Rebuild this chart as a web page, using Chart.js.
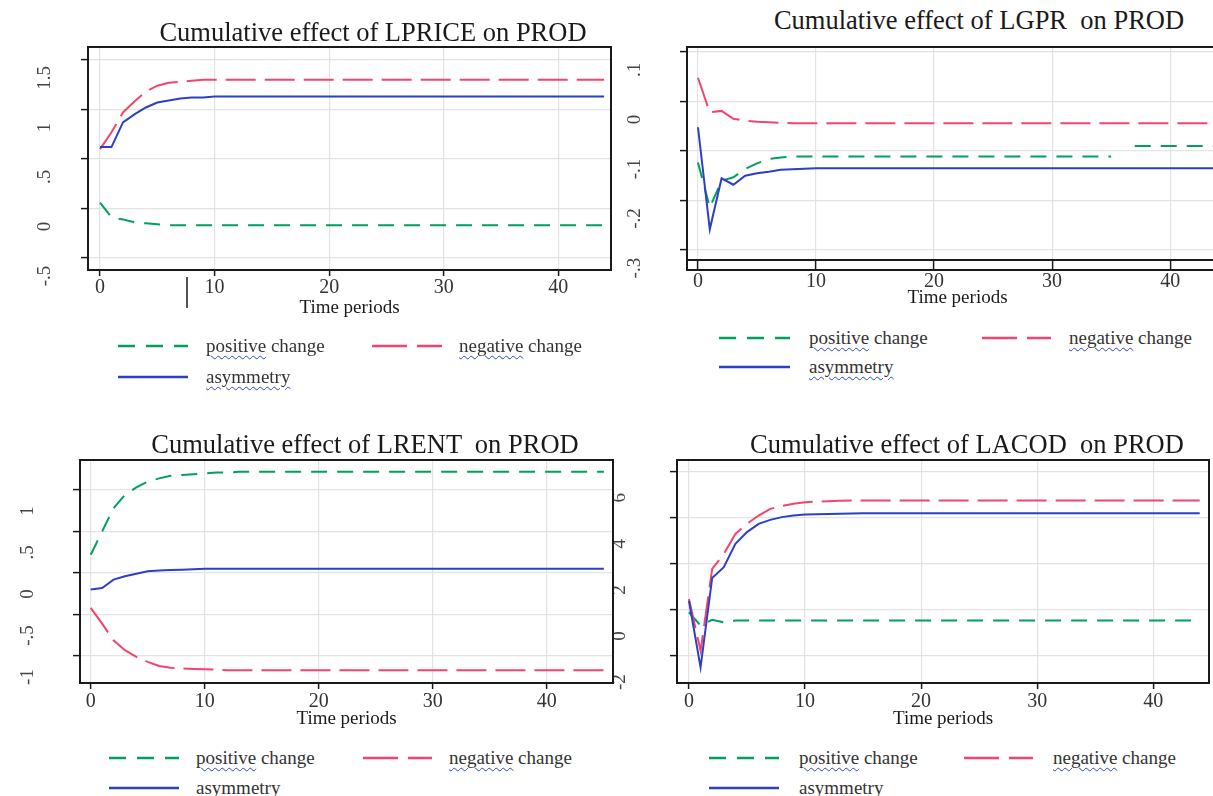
<!DOCTYPE html>
<html>
<head>
<meta charset="utf-8">
<title>Cumulative effects on PROD</title>
<script src="https://cdn.jsdelivr.net/npm/chart.js@4.4.1/dist/chart.umd.min.js"></script>
<style>
  html, body { margin: 0; padding: 0; background: #fff; width: 1213px; height: 796px; overflow: hidden; }
  body { position: relative; font-family: "Liberation Serif", "DejaVu Serif", serif; color: #222; }
  canvas { position: absolute; }
  .title { position: absolute; font-size: 26.5px; line-height: 1; white-space: pre; transform: translateX(-50%); color: #1a1a1a; }
  .lbl { position: absolute; font-size: 19px; line-height: 1; white-space: pre; color: #333; }
  .sq { text-decoration: underline wavy #2a44d0; text-decoration-thickness: 1px; text-underline-offset: 3px; }
  svg.key { position: absolute; overflow: visible; }
  .stray { position: absolute; left: 186px; top: 277px; width: 1.5px; height: 31px; background: #555; }
</style>
</head>
<body>

<canvas id="c-lprice" width="612" height="275" style="left:0;top:45px"></canvas>
<canvas id="c-lgpr"   width="620" height="265" style="left:612px;top:45px"></canvas>
<canvas id="c-lrent"  width="614" height="273" style="left:0;top:458px"></canvas>
<canvas id="c-lacod"  width="600" height="273" style="left:614px;top:458px"></canvas>

<div class="title" style="left:373px;top:19px">Cumulative effect of LPRICE on PROD</div>
<div class="title" style="left:979px;top:7px">Cumulative effect of LGPR  on PROD</div>
<div class="title" style="left:365px;top:431px">Cumulative effect of LRENT  on PROD</div>
<div class="title" style="left:967px;top:431px">Cumulative effect of LACOD  on PROD</div>
<div class="stray"></div>

<script>
"use strict";

// ── Data ───────────────────────────────────────────────────────────── //
const periods44 = [0,1,2,3,4,5,6,7,8,9,10,11,12,13,14,15,16,17,18,19,20,21,22,23,24,25,26,27,28,29,30,31,32,33,34,35,36,37,38,39,40,41,42,43,44];
const periods45 = [0,1,2,3,4,5,6,7,8,9,10,11,12,13,14,15,16,17,18,19,20,21,22,23,24,25,26,27,28,29,30,31,32,33,34,35,36,37,38,39,40,41,42,43,44,45];
const xTicks = [0, 10, 20, 30, 40];

// LPRICE
const lpricePos = [
  0.06,-0.09,-0.11,-0.14,-0.15,-0.16,-0.17,-0.17,-0.17,-0.17,
  -0.17,-0.17,-0.17,-0.17,-0.17,-0.17,-0.17,-0.17,-0.17,-0.17,
  -0.17,-0.17,-0.17,-0.17,-0.17,-0.17,-0.17,-0.17,-0.17,-0.17,
  -0.17,-0.17,-0.17,-0.17,-0.17,-0.17,-0.17,-0.17,-0.17,-0.17,
  -0.17,-0.17,-0.17,-0.17,-0.17];
const lpriceNeg = [
  0.60,0.77,0.97,1.08,1.18,1.24,1.27,1.28,1.29,1.30,
  1.30,1.30,1.30,1.30,1.30,1.30,1.30,1.30,1.30,1.30,
  1.30,1.30,1.30,1.30,1.30,1.30,1.30,1.30,1.30,1.30,
  1.30,1.30,1.30,1.30,1.30,1.30,1.30,1.30,1.30,1.30,
  1.30,1.30,1.30,1.30,1.30];
const lpriceAsym = [
  0.62,0.62,0.87,0.95,1.02,1.07,1.09,1.11,1.12,1.12,
  1.13,1.13,1.13,1.13,1.13,1.13,1.13,1.13,1.13,1.13,
  1.13,1.13,1.13,1.13,1.13,1.13,1.13,1.13,1.13,1.13,
  1.13,1.13,1.13,1.13,1.13,1.13,1.13,1.13,1.13,1.13,
  1.13,1.13,1.13,1.13,1.13];
const lpriceTicks  = [-0.5, 0, 0.5, 1, 1.5];
const lpriceLabels = ["-.5", "0", ".5", "1", "1.5"];

// LGPR
const lgprPos = [
  -0.123,-0.214,-0.160,-0.153,-0.136,-0.125,-0.116,-0.113,-0.111,-0.111,
  -0.111,-0.111,-0.111,-0.111,-0.111,-0.111,-0.111,-0.111,-0.111,-0.111,
  -0.111,-0.111,-0.111,-0.111,-0.111,-0.111,-0.111,-0.111,-0.111,-0.111,
  -0.111,-0.111,-0.111,-0.111,-0.111,-0.111,null,-0.090,-0.090,-0.090,
  -0.090,-0.090,-0.090,-0.090,-0.090];
const lgprNeg = [
  0.048,-0.022,-0.019,-0.035,-0.039,-0.041,-0.042,-0.043,-0.044,-0.044,
  -0.044,-0.044,-0.044,-0.044,-0.044,-0.044,-0.044,-0.044,-0.044,-0.044,
  -0.044,-0.044,-0.044,-0.044,-0.044,-0.044,-0.044,-0.044,-0.044,-0.044,
  -0.044,-0.044,-0.044,-0.044,-0.044,-0.044,-0.044,-0.044,-0.044,-0.044,
  -0.044,-0.044,-0.044,-0.044,-0.044];
const lgprAsym = [
  -0.052,-0.258,-0.155,-0.168,-0.150,-0.145,-0.142,-0.138,-0.137,-0.136,
  -0.135,-0.135,-0.135,-0.135,-0.135,-0.135,-0.135,-0.135,-0.135,-0.135,
  -0.135,-0.135,-0.135,-0.135,-0.135,-0.135,-0.135,-0.135,-0.135,-0.135,
  -0.135,-0.135,-0.135,-0.135,-0.135,-0.135,-0.135,-0.135,-0.135,-0.135,
  -0.135,-0.135,-0.135,-0.135,-0.135];
const lgprTicks  = [-0.3, -0.2, -0.1, 0, 0.1];
const lgprLabels = ["-.3", "-.2", "-.1", "0", ".1"];

// LRENT
const lrentPos = [
  0.22,0.50,0.78,0.94,1.03,1.10,1.14,1.17,1.18,1.19,
  1.20,1.21,1.21,1.22,1.22,1.22,1.22,1.22,1.22,1.22,
  1.22,1.22,1.22,1.22,1.22,1.22,1.22,1.22,1.22,1.22,
  1.22,1.22,1.22,1.22,1.22,1.22,1.22,1.22,1.22,1.22,
  1.22,1.22,1.22,1.22,1.22,1.22];
const lrentNeg = [
  -0.42,-0.61,-0.81,-0.93,-1.01,-1.07,-1.12,-1.14,-1.15,-1.155,
  -1.16,-1.165,-1.17,-1.17,-1.17,-1.17,-1.17,-1.17,-1.17,-1.17,
  -1.17,-1.17,-1.17,-1.17,-1.17,-1.17,-1.17,-1.17,-1.17,-1.17,
  -1.17,-1.17,-1.17,-1.17,-1.17,-1.17,-1.17,-1.17,-1.17,-1.17,
  -1.17,-1.17,-1.17,-1.17,-1.17,-1.17];
const lrentAsym = [
  -0.20,-0.18,-0.08,-0.04,-0.01,0.02,0.03,0.035,0.04,0.045,
  0.05,0.05,0.05,0.05,0.05,0.05,0.05,0.05,0.05,0.05,
  0.05,0.05,0.05,0.05,0.05,0.05,0.05,0.05,0.05,0.05,
  0.05,0.05,0.05,0.05,0.05,0.05,0.05,0.05,0.05,0.05,
  0.05,0.05,0.05,0.05,0.05,0.05];
const lrentTicks  = [-1, -0.5, 0, 0.5, 1];
const lrentLabels = ["-1", "-.5", "0", ".5", "1"];

// LACOD
const lacodPos = [
  -0.10,-0.68,-0.43,-0.54,-0.46,-0.46,-0.46,-0.46,-0.46,-0.46,
  -0.46,-0.46,-0.46,-0.46,-0.46,-0.46,-0.46,-0.46,-0.46,-0.46,
  -0.46,-0.46,-0.46,-0.46,-0.46,-0.46,-0.46,-0.46,-0.46,-0.46,
  -0.46,-0.46,-0.46,-0.46,-0.46,-0.46,-0.46,-0.46,-0.46,-0.46,
  -0.46,-0.46,-0.46,-0.46,-0.46];
const lacodNeg = [
  0.48,-1.77,1.78,2.43,3.30,3.74,4.10,4.39,4.51,4.61,
  4.68,4.70,4.72,4.74,4.75,4.75,4.75,4.75,4.75,4.75,
  4.75,4.75,4.75,4.75,4.75,4.75,4.75,4.75,4.75,4.75,
  4.75,4.75,4.75,4.75,4.75,4.75,4.75,4.75,4.75,4.75,
  4.75,4.75,4.75,4.75,4.75];
const lacodAsym = [
  0.40,-2.49,1.39,1.86,2.87,3.38,3.74,3.91,4.03,4.10,
  4.14,4.16,4.17,4.18,4.19,4.20,4.20,4.20,4.20,4.20,
  4.20,4.20,4.20,4.20,4.20,4.20,4.20,4.20,4.20,4.20,
  4.20,4.20,4.20,4.20,4.20,4.20,4.20,4.20,4.20,4.20,
  4.20,4.20,4.20,4.20,4.20];
const lacodTicks  = [-2, 0, 2, 4, 6];
const lacodLabels = ["-2", "0", "2", "4", "6"];

// ── Styles ─────────────────────────────────────────────────────────── //
const FONT  = "'Liberation Serif', 'DejaVu Serif', serif";
const GREEN = "#00a05c";
const RED   = "#f2446c";
const BLUE  = "#2b40c6";
const GRID  = "#e3e3e3";
const INK   = "#1a1a1a";

// black box round the plot region, optional second axis line below it
const framePlugin = {
  id: "frame",
  afterDraw(chart, _args, opts) {
    const { ctx, chartArea: a } = chart;
    ctx.save();
    ctx.strokeStyle = INK;
    ctx.lineWidth = 2;
    ctx.strokeRect(a.left, a.top, a.right - a.left, a.bottom - a.top);
    if (opts.axisGap) {
      ctx.beginPath();
      ctx.moveTo(a.left, a.bottom);
      ctx.lineTo(a.left, a.bottom + opts.axisGap);
      ctx.lineTo(a.right, a.bottom + opts.axisGap);
      ctx.stroke();
    }
    ctx.restore();
  }
};

// keep the label overhang out of the layout so the plot box sits where set
function noOverhang(s) {
  s.paddingTop = 0; s.paddingBottom = 0;
  s.paddingLeft = 0; s.paddingRight = 0;
}

function xScale(min, max, c) {
  return {
    type: "linear", min, max,
    afterBuildTicks: s => { s.ticks = xTicks.map(v => ({ value: v })); },
    afterFit: s => { s.height = c.height; noOverhang(s); },
    border: { display: false },
    grid: { color: GRID, lineWidth: 1.2, tickColor: INK, tickLength: c.tl, tickWidth: 1.5 },
    ticks: {
      color: "#333", padding: c.pad, maxRotation: 0,
      font: { family: FONT, size: 20, lineHeight: 1 },
      callback: v => String(v),
    },
    title: {
      display: true, text: "Time periods", color: INK,
      font: { family: FONT, size: 19, lineHeight: 1 },
      padding: { top: 0, bottom: 2.5 },
    },
  };
}

function yScale(min, max, tickVals, tickLabels, c) {
  return {
    type: "linear", min, max,
    afterBuildTicks: s => { s.ticks = tickVals.map(v => ({ value: v })); },
    afterFit: s => { s.width = c.width; noOverhang(s); },
    border: { display: false },
    grid: { color: GRID, lineWidth: 1.2, tickColor: INK, tickLength: 7, tickWidth: 1.5 },
    ticks: {
      color: "#444", padding: c.pad, minRotation: 90, maxRotation: 90,
      crossAlign: "center", labelOffset: c.off,
      font: { family: FONT, size: 19 },
      callback: v => tickLabels[tickVals.indexOf(v)],
    },
  };
}

function series(label, data, color, dash, order) {
  return {
    label, data, order,
    borderColor: color, borderWidth: 2, borderDash: dash,
    pointRadius: 0, tension: 0, fill: false, spanGaps: false,
  };
}

function makePanel(id, p) {
  const ctx = document.getElementById(id).getContext("2d");
  return new Chart(ctx, {
    type: "line",
    data: {
      labels: p.periods,
      datasets: [
        series("positive change", p.pos,  GREEN, [16, 10], 3),
        series("negative change", p.neg,  RED,   [30, 9],  2),
        series("asymmetry",       p.asym, BLUE,  [],       1),
      ],
    },
    options: {
      responsive: false,
      animation: false,
      events: [],
      layout: { padding: p.padding },
      plugins: {
        legend: { display: false },
        tooltip: { enabled: false },
        frame: { axisGap: p.axisGap || 0 },
      },
      scales: {
        x: xScale(p.xMin, p.xMax, p.x),
        y: yScale(p.yMin, p.yMax, p.yTicks, p.yLabels, p.y),
      },
    },
    plugins: [framePlugin],
  });
}

// ── Panels ─────────────────────────────────────────────────────────── //
makePanel("c-lprice", {
  periods: periods44, pos: lpricePos, neg: lpriceNeg, asym: lpriceAsym,
  yTicks: lpriceTicks, yLabels: lpriceLabels,
  xMin: -1.05, xMax: 44.6, yMin: -0.621, yMax: 1.631,
  padding: { top: 2, right: 1, left: 0, bottom: 0 },
  x: { height: 50, tl: 6, pad: 2 },
  y: { width: 88, pad: 24, off: 18 },
});

makePanel("c-lgpr", {
  periods: periods44, pos: lgprPos, neg: lgprNeg, asym: lgprAsym,
  yTicks: lgprTicks, yLabels: lgprLabels,
  xMin: -0.93, xMax: 44.9, yMin: -0.320, yMax: 0.110,
  padding: { top: 2, right: 4, left: 0, bottom: 0 },
  axisGap: 10,
  x: { height: 50, tl: 10, pad: 2 },
  y: { width: 75, pad: 34.7, off: 18 },
});

makePanel("c-lrent", {
  periods: periods45, pos: lrentPos, neg: lrentNeg, asym: lrentAsym,
  yTicks: lrentTicks, yLabels: lrentLabels,
  xMin: -0.94, xMax: 45.8, yMin: -1.325, yMax: 1.361,
  padding: { top: 2, right: 1, left: 0, bottom: 0 },
  x: { height: 48, tl: 6, pad: 3 },
  y: { width: 80, pad: 34.7, off: 21 },
});

makePanel("c-lacod", {
  periods: periods44, pos: lacodPos, neg: lacodNeg, asym: lacodAsym,
  yTicks: lacodTicks, yLabels: lacodLabels,
  xMin: -1.03, xMax: 44.8, yMin: -3.17, yMax: 6.51,
  padding: { top: 2, right: 5, left: 0, bottom: 0 },
  x: { height: 48, tl: 6, pad: 3 },
  y: { width: 63, pad: 42, off: 26 },
});

// ── Legends (HTML, two columns like the original) ──────────────────── //
const NS = "http://www.w3.org/2000/svg";

function addKey(x0, x1, y, color, dash) {
  const svg = document.createElementNS(NS, "svg");
  svg.setAttribute("class", "key");
  svg.setAttribute("width", x1 - x0);
  svg.setAttribute("height", 6);
  svg.style.left = x0 + "px";
  svg.style.top = (y - 3) + "px";
  const ln = document.createElementNS(NS, "line");
  ln.setAttribute("x1", 0); ln.setAttribute("x2", x1 - x0);
  ln.setAttribute("y1", 3); ln.setAttribute("y2", 3);
  ln.setAttribute("stroke", color);
  ln.setAttribute("stroke-width", 2.5);
  if (dash) ln.setAttribute("stroke-dasharray", dash);
  svg.appendChild(ln);
  document.body.appendChild(svg);
}

function addText(x, y, word, rest) {
  const d = document.createElement("div");
  d.className = "lbl";
  d.style.left = x + "px";
  d.style.top = (y - 10) + "px";
  const s = document.createElement("span");
  s.className = "sq";
  s.textContent = word;
  d.appendChild(s);
  if (rest) d.appendChild(document.createTextNode(rest));
  document.body.appendChild(d);
}

function addLegend(g, r, b, rows) {
  addKey(g[0], g[1], rows[0], GREEN, "17 11");
  addText(g[2], rows[0], "positive", " change");
  addKey(r[0], r[1], rows[0], RED, "35 10");
  addText(r[2], rows[0], "negative", " change");
  addKey(b[0], b[1], rows[1], BLUE, null);
  addText(b[2], rows[1], "asymmetry", "");
}

addLegend([118, 188, 206], [372, 442, 459],  [118, 188, 206], [346, 377]);
addLegend([719, 790, 809], [982, 1051, 1069], [719, 790, 809], [338, 367]);
addLegend([109, 179, 196], [363, 432, 449],  [109, 179, 196], [758, 788]);
addLegend([709, 779, 799], [964, 1033, 1053], [709, 779, 799], [758, 788]);
</script>
</body>
</html>
